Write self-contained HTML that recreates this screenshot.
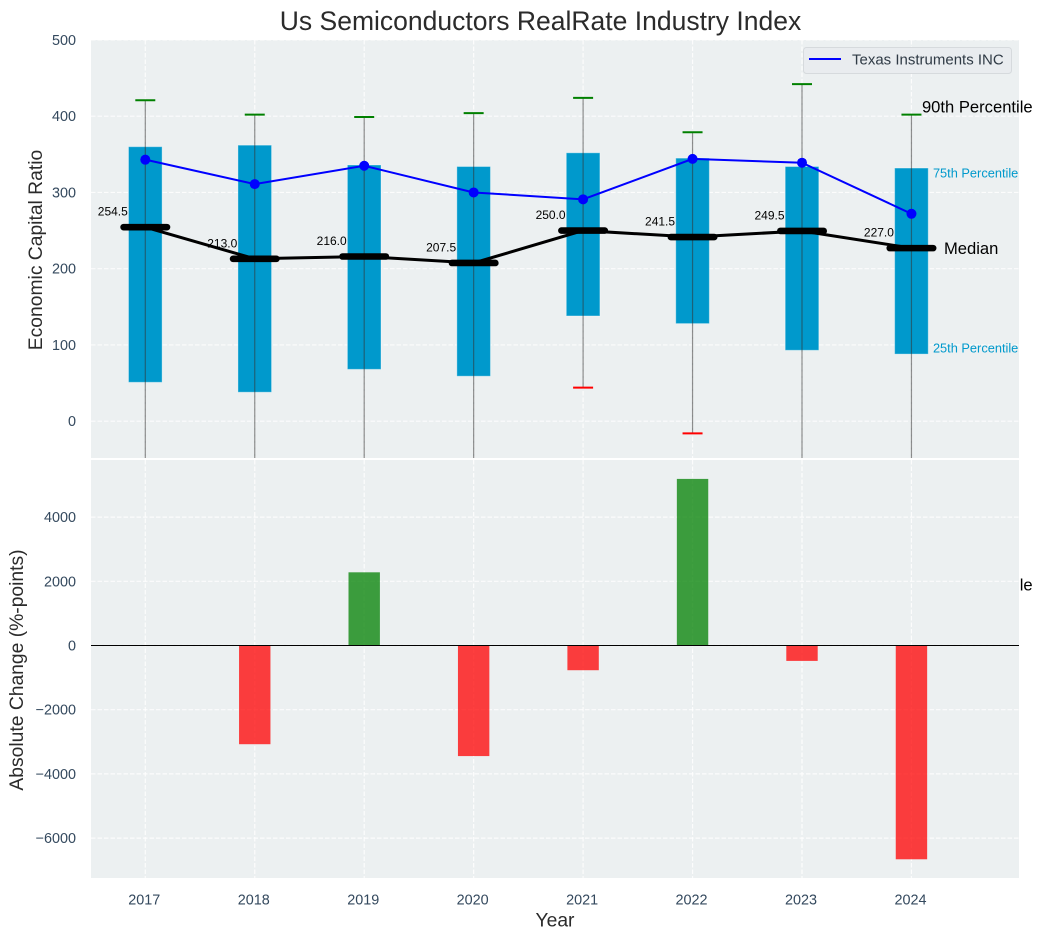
<!DOCTYPE html>
<html>
<head>
<meta charset="utf-8">
<title>Us Semiconductors RealRate Industry Index</title>
<style>
html,body{margin:0;padding:0;background:#fff;width:1043px;height:940px;overflow:hidden}
svg{display:block;font-family:"Liberation Sans",Arial,sans-serif}
</style>
</head>
<body>
<svg id="chart" width="1043" height="940" viewBox="0 0 1043 940">
<defs>
<clipPath id="top-clip"><rect x="91" y="40" width="928" height="418"></rect></clipPath>
<clipPath id="bottom-clip"><rect x="91" y="460" width="928" height="418"></rect></clipPath>
</defs>
<text x="540.5" y="30" text-anchor="middle" font-size="26.5" fill="#2b2b2b">Us Semiconductors RealRate Industry Index</text>
<text transform="translate(42,250) rotate(-90)" text-anchor="middle" font-size="19.3" fill="#2b2b2b">Economic Capital Ratio</text>
<text transform="translate(23,670) rotate(-90)" text-anchor="middle" font-size="19.3" fill="#2b2b2b">Absolute Change (%-points)</text>
<text x="555" y="926.5" text-anchor="middle" font-size="19.3" fill="#2b2b2b">Year</text>
<g id="top-axes"></g>
<g id="bottom-axes"></g>
<g id="legend">
<rect x="803.5" y="47.5" width="208" height="26" rx="3" fill="#e9ecef" stroke="#d6dadd"></rect>
<line x1="809" y1="59" x2="841" y2="59" stroke="#0000ff" stroke-width="2"></line>
<text x="852" y="64.5" font-size="15" fill="#2f3a45">Texas Instruments INC</text>
</g>
</svg>
<script>
const years = [2017, 2018, 2019, 2020, 2021, 2022, 2023, 2024];
const p10 = [-60, -75, -70, -90, 44, -16, -65, -80];
const p25 = [51, 38, 68, 59, 138, 128, 93, 88];
const medians = [254.5, 213.0, 216.0, 207.5, 250.0, 241.5, 249.5, 227.0];
const p75 = [360, 362, 336, 334, 352, 345, 334, 332];
const p90 = [421, 402, 399, 404, 424, 379, 442, 402];
const company = [343, 311, 335, 300, 291, 344, 339, 272];
const changes = [0, -3075, 2280, -3445, -770, 5190, -480, -6660];
const topTicks = [0, 100, 200, 300, 400, 500];
const bottomTicks = [-6000, -4000, -2000, 0, 2000, 4000];

const NS = 'http://www.w3.org/2000/svg';
const xScale = v => 145.3 + (v - 2017) * 109.45;
const yTop = v => 421.2 - v * 0.7625;
const yBottom = v => 645.5 - v * 0.0321;

function make(parent, tag, props, text) {
  const el = document.createElementNS(NS, tag);
  for (const k in props) el.setAttribute(k, props[k]);
  if (text !== undefined) el.textContent = text;
  parent.appendChild(el);
  return el;
}
function fmtTick(v) { return v < 0 ? '\u2212' + Math.abs(v) : String(v); }

const topAxes = document.getElementById('top-axes');
const bottomAxes = document.getElementById('bottom-axes');
const gridStyle = { stroke: '#ffffff', 'stroke-width': 1.2, 'stroke-dasharray': '4.5 2', opacity: 0.85 };

/* top panel */
const topBg = make(topAxes, 'rect', { x: 91, y: 40, width: 928, height: 418, fill: '#ecf0f1' });



topTicks.forEach(t => {
  const g = make(topAxes, 'line', Object.assign({ x1: 91, x2: 1019, y1: yTop(t), y2: yTop(t) }, gridStyle));
  
  
  const l = make(topAxes, 'text', { x: 76, y: yTop(t) + 5, 'text-anchor': 'end', 'font-size': 14.4, fill: '#34495e' }, fmtTick(t));
  
  
});
years.forEach(y => {
  const g = make(topAxes, 'line', Object.assign({ x1: xScale(y), x2: xScale(y), y1: 40, y2: 458 }, gridStyle));
  
  
});

const plot = make(topAxes, 'g', { 'clip-path': 'url(#top-clip)' });



years.forEach((y, i) => {
  const cx = xScale(y);
  const bar = make(plot, 'rect', {
    x: cx - 16.8, y: yTop(p75[i]), width: 33.6, height: yTop(p25[i]) - yTop(p75[i]),
    fill: '#0099cc', stroke: '#ffffff', 'stroke-opacity': 0.35, 'stroke-width': 1
  });
  
  
  const lab = make(plot, 'text', { x: cx - 17.5, y: yTop(medians[i]) - 11.5, 'text-anchor': 'end', 'font-size': 12, fill: '#000' }, medians[i].toFixed(1));
  
  
  const w = make(plot, 'line', { x1: cx, x2: cx, y1: yTop(p90[i]), y2: yTop(p10[i]), stroke: '#333', 'stroke-opacity': 0.55, 'stroke-width': 1.2 });
  
  
  const capHi = make(plot, 'line', { x1: cx - 10, x2: cx + 10, y1: yTop(p90[i]), y2: yTop(p90[i]), stroke: '#008000', 'stroke-width': 2 });
  
  
  const capLo = make(plot, 'line', { x1: cx - 10, x2: cx + 10, y1: yTop(p10[i]), y2: yTop(p10[i]), stroke: '#ff0000', 'stroke-width': 2 });
  
  
});

const medianLine = make(plot, 'polyline', {
  points: years.map((y, i) => xScale(y) + ',' + yTop(medians[i])).join(' '),
  fill: 'none', stroke: '#000', 'stroke-width': 3
});



years.forEach((y, i) => {
  const cx = xScale(y);
  const m = make(plot, 'line', { x1: cx - 21.7, x2: cx + 21.7, y1: yTop(medians[i]), y2: yTop(medians[i]), stroke: '#000', 'stroke-width': 6.6, 'stroke-linecap': 'round' });
  
  
});

const coLine = make(plot, 'polyline', {
  points: years.map((y, i) => xScale(y) + ',' + yTop(company[i])).join(' '),
  fill: 'none', stroke: '#0000ff', 'stroke-width': 2
});



years.forEach((y, i) => {
  const d = make(plot, 'circle', { cx: xScale(y), cy: yTop(company[i]), r: 5, fill: '#0000ff' });
  
  
});

/* annotations anchored to the last year */
const lastI = years.length - 1;
const lastX = xScale(years[lastI]);
const a75 = make(topAxes, 'text', { x: lastX + 21.5, y: yTop(p75[lastI]) + 9.5, 'font-size': 12.8, fill: '#0099cc' }, '75th Percentile');


const a25 = make(topAxes, 'text', { x: lastX + 21.5, y: yTop(p25[lastI]) - 1.5, 'font-size': 12.8, fill: '#0099cc' }, '25th Percentile');


const a90 = make(topAxes, 'text', { x: lastX + 10.5, y: yTop(p90[lastI]) - 2, 'font-size': 16.6, fill: '#000' }, '90th Percentile');


const aMed = make(topAxes, 'text', { x: lastX + 32.5, y: yTop(medians[lastI]) + 6, 'font-size': 16.6, fill: '#000' }, 'Median');


const a10 = make(topAxes, 'text', { x: lastX + 10.5, y: 590.5, 'font-size': 16.6, fill: '#000' }, '10th Percentile');



/* bottom panel */
const botBg = make(bottomAxes, 'rect', { x: 91, y: 460, width: 928, height: 418, fill: '#ecf0f1' });



bottomTicks.forEach(t => {
  const g = make(bottomAxes, 'line', Object.assign({ x1: 91, x2: 1019, y1: yBottom(t), y2: yBottom(t) }, gridStyle));
  
  
  const l = make(bottomAxes, 'text', { x: 76, y: yBottom(t) + 5, 'text-anchor': 'end', 'font-size': 14.4, fill: '#34495e' }, fmtTick(t));
  
  
});
years.forEach((y, i) => {
  const cx = xScale(y);
  const g = make(bottomAxes, 'line', Object.assign({ x1: cx, x2: cx, y1: 460, y2: 878 }, gridStyle));
  
  
  const l = make(bottomAxes, 'text', { x: cx - 1, y: 904.5, 'text-anchor': 'middle', 'font-size': 14.4, fill: '#34495e' }, String(y));
  
  
  const v = changes[i];
  const b = make(bottomAxes, 'rect', {
    x: cx - 15.7, width: 31.4,
    y: Math.min(yBottom(v), yBottom(0)), height: Math.abs(yBottom(v) - yBottom(0)),
    fill: v >= 0 ? '#008000' : '#ff0000', 'fill-opacity': 0.75
  });
  
  
});
const zero = make(bottomAxes, 'line', { x1: 91, x2: 1019, y1: yBottom(0), y2: yBottom(0), stroke: '#000', 'stroke-width': 1.1 });


</script>
</body>
</html>
